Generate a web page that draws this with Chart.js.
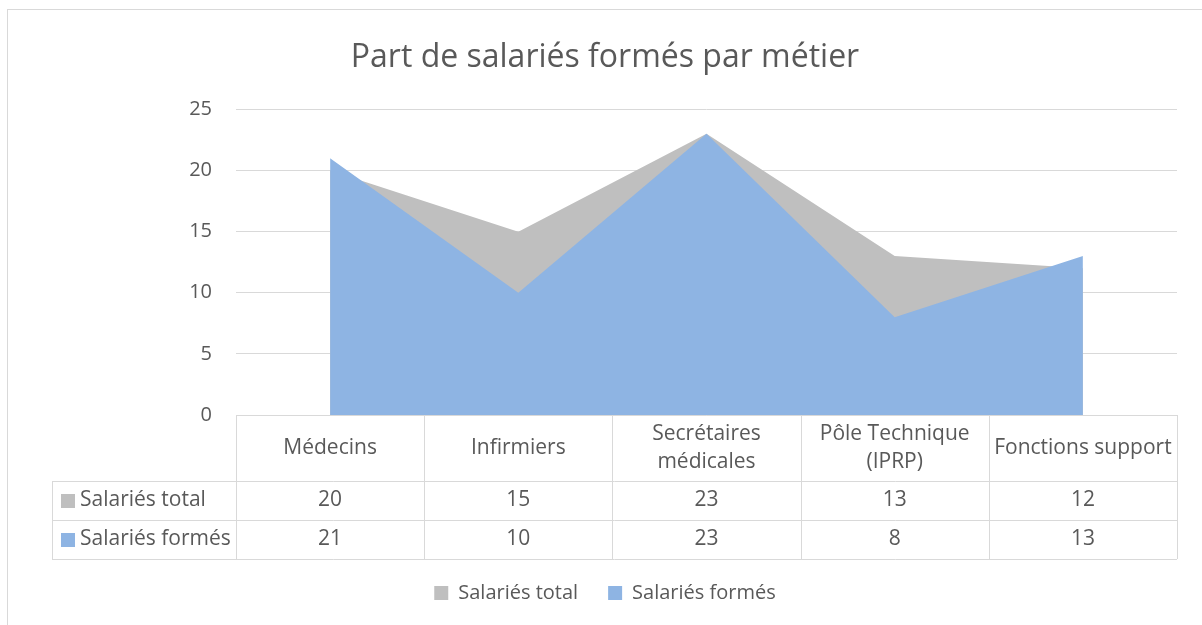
<!DOCTYPE html>
<html>
<head>
<meta charset="utf-8">
<script src="https://cdn.jsdelivr.net/npm/chart.js@4"></script>
<style>
  html, body { margin: 0; padding: 0; background: #fff; }
  #wrap { width: 1202px; height: 625px; position: relative; }
</style>
</head>
<body>
<div id="wrap"><canvas id="chart"></canvas></div>
<script>
// données
const categories = ["Médecins", "Infirmiers", ["Secrétaires", "médicales"], ["Pôle Technique", "(IPRP)"], "Fonctions support"];
const salariesTotal = [20, 15, 23, 13, 12];
const salariesFormes = [21, 10, 23, 8, 13];
const seriesNames = ["Salariés total", "Salariés formés"];
const seriesColors = ["#BFBFBF", "#8EB4E3"];
const yMax = 25;
const yStep = 5;

const textColor = "#595959";
const lineColor = "#D9D9D9";
const fontFamily = "'Open Sans', sans-serif";

// Tableau de données sous le graphique + cadre
const tablePlugin = {
  id: "dataTable",
  afterDraw(chart) {
    const ctx = chart.ctx;
    const area = chart.chartArea;
    const xs = chart.scales.x;
    const top = area.bottom;
    const headerBottom = top + 66;
    const rowH = 39;
    const tableBottom = headerBottom + rowH * 2;
    const left = 52;
    const colW = (area.right - area.left) / categories.length;

    ctx.save();
    ctx.strokeStyle = lineColor;
    ctx.lineWidth = 1;

    // lignes horizontales
    ctx.beginPath();
    ctx.moveTo(area.left, top + 0.5); ctx.lineTo(area.right, top + 0.5);
    ctx.moveTo(left, headerBottom + 0.5); ctx.lineTo(area.right, headerBottom + 0.5);
    ctx.moveTo(left, headerBottom + rowH + 0.5); ctx.lineTo(area.right, headerBottom + rowH + 0.5);
    ctx.moveTo(left, tableBottom + 0.5); ctx.lineTo(area.right, tableBottom + 0.5);
    // lignes verticales
    ctx.moveTo(left + 0.5, headerBottom); ctx.lineTo(left + 0.5, tableBottom);
    for (let i = 0; i <= categories.length; i++) {
      const x = Math.round(area.left + colW * i) + 0.5;
      ctx.moveTo(x, top); ctx.lineTo(x, tableBottom);
    }
    ctx.stroke();

    ctx.fillStyle = textColor;
    ctx.font = "21px " + fontFamily;
    ctx.textAlign = "center";
    ctx.textBaseline = "middle";

    // en-têtes
    categories.forEach((cat, i) => {
      const cx = xs.getPixelForValue(i);
      const lines = Array.isArray(cat) ? cat : [cat];
      const mid = (top + headerBottom) / 2;
      lines.forEach((l, j) => {
        ctx.fillText(l, cx, mid + (j - (lines.length - 1) / 2) * 28);
      });
    });

    // lignes de valeurs
    const rows = [salariesTotal, salariesFormes];
    rows.forEach((vals, r) => {
      const cy = headerBottom + rowH * r + rowH / 2;
      ctx.fillStyle = seriesColors[r];
      ctx.fillRect(61, Math.round(cy - 7), 14, 14);
      ctx.fillStyle = textColor;
      ctx.textAlign = "left";
      ctx.fillText(seriesNames[r], 80, cy);
      ctx.textAlign = "center";
      vals.forEach((v, i) => {
        ctx.fillText(String(v), xs.getPixelForValue(i), cy);
      });
    });

    // cadre extérieur
    ctx.strokeStyle = lineColor;
    ctx.strokeRect(7.5, 9.5, 1210, 630);
    ctx.restore();
  }
};

new Chart(document.getElementById("chart"), {
  type: "line",
  data: {
    labels: categories,
    datasets: [
      {
        label: seriesNames[0],
        data: salariesTotal,
        backgroundColor: seriesColors[0],
        borderWidth: 0,
        pointRadius: 0,
        fill: "origin",
        order: 2
      },
      {
        label: seriesNames[1],
        data: salariesFormes,
        backgroundColor: seriesColors[1],
        borderWidth: 0,
        pointRadius: 0,
        fill: "origin",
        order: 1
      }
    ]
  },
  options: {
    responsive: true,
    maintainAspectRatio: false,
    animation: false,
    layout: {
      padding: { left: 8, right: 0, top: 0, bottom: 12 }
    },
    plugins: {
      title: {
        display: true,
        text: "Part de salariés formés par métier",
        color: textColor,
        font: { family: fontFamily, size: 32, weight: "normal" },
        padding: { top: 39, bottom: 32 }
      },
      legend: {
        position: "bottom",
        labels: {
          color: textColor,
          font: { family: fontFamily, size: 20 },
          boxWidth: 14,
          boxHeight: 14,
          padding: 30,
          sort: (a, b) => a.datasetIndex - b.datasetIndex
        }
      },
      tooltip: { enabled: false }
    },
    scales: {
      x: {
        offset: true,
        grid: { display: false },
        border: { display: false },
        ticks: { display: false },
        afterFit(scale) { scale.height = 138; }
      },
      y: {
        min: 0,
        max: yMax,
        ticks: {
          stepSize: yStep,
          color: textColor,
          font: { family: fontFamily, size: 20 },
          padding: 24
        },
        grid: { color: lineColor, lineWidth: 1, drawTicks: false },
        border: { display: false },
        afterFit(scale) { scale.width = 228; }
      },
      // marge droite (espace vide à droite de la zone de tracé)
      yRight: {
        position: "right",
        grid: { display: false },
        border: { display: false },
        ticks: { display: false },
        afterFit(scale) { scale.width = 25; }
      }
    }
  },
  plugins: [tablePlugin]
});
</script>
</body>
</html>
